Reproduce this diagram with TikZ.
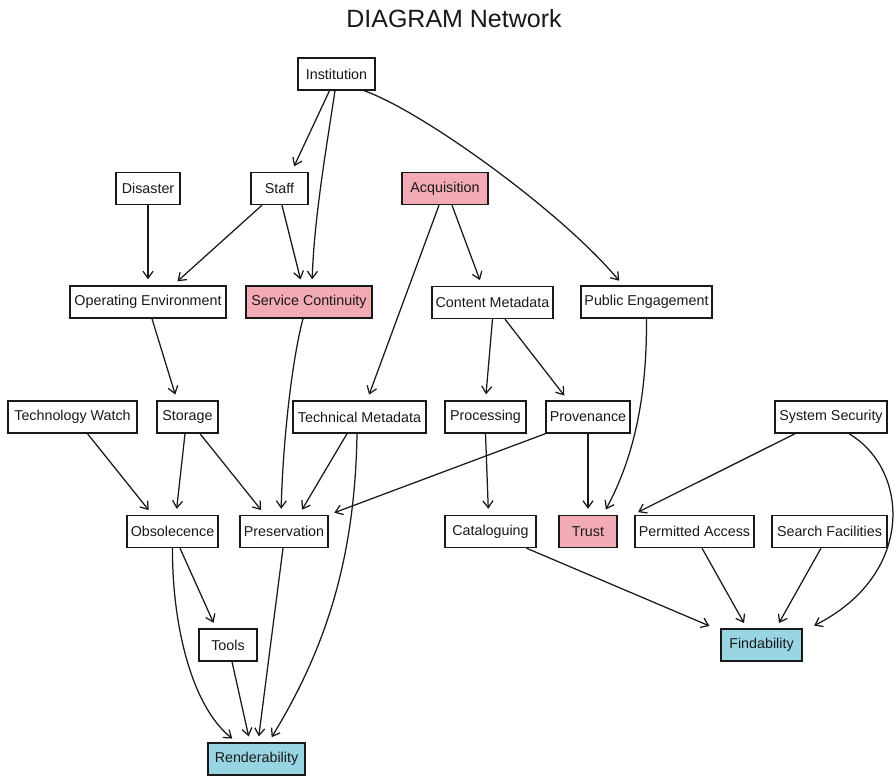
\documentclass[tikz,border=0pt]{standalone}
\usepackage{fontspec}
\setmainfont{Liberation Sans}
\usetikzlibrary{arrows.meta}
\definecolor{pinkbox}{RGB}{242,170,180}
\definecolor{bluebox}{RGB}{152,212,226}
\definecolor{ink}{RGB}{25,25,25}
\tikzset{
  box/.style={draw=ink, line width=1.4pt, minimum height=32pt, inner sep=0pt,
    font=\fontsize{14.3}{16}\selectfont, text=ink, fill=white},
  pinkn/.style={box, fill=pinkbox},
  bluen/.style={box, fill=bluebox},
  edge/.style={line width=1.25pt, draw=ink, -{Straight Barb[length=7pt,width=10pt]}, shorten >=6pt},
}
\begin{document}
\begin{tikzpicture}[x=1pt,y=-1pt]
\useasboundingbox[fill=white] (0,0) rectangle (895,776);
\node[font=\fontsize{25}{30}\selectfont, text=ink, anchor=base] (title) at (454,28) {DIAGRAM Network};

\node[box, minimum width=77pt] (inst) at (336.5,74) {Institution};
\node[box, minimum width=64pt] (dis) at (148,188.5) {Disaster};
\node[box, minimum width=57pt] (staff) at (279.5,188.5) {Staff};
\node[pinkn, minimum width=86pt] (acq) at (445,188.5) {Acquisition};
\node[box, minimum width=156pt] (oe) at (148,302) {Operating Environment};
\node[pinkn, minimum width=126pt] (sc) at (309,302) {Service Continuity};
\node[box, minimum width=121pt] (cm) at (492.5,302.5) {Content Metadata};
\node[box, minimum width=131pt] (pe) at (646.5,302) {Public Engagement};
\node[box, minimum width=129pt] (tw) at (72.5,417) {Technology Watch};
\node[box, minimum width=61pt] (sto) at (187.5,417) {Storage};
\node[box, minimum width=133pt] (tm) at (359.5,417) {Technical Metadata};
\node[box, minimum width=81pt] (proc) at (485.5,417) {Processing};
\node[box, minimum width=84pt] (prov) at (588,417) {Provenance};
\node[box, minimum width=112pt] (ss) at (831,417) {System Security};
\node[box, minimum width=91pt] (obs) at (172.5,531.5) {Obsolecence};
\node[box, minimum width=88pt] (pres) at (284,531.5) {Preservation};
\node[box, minimum width=91pt] (cat) at (490.5,531.5) {Cataloguing};
\node[pinkn, minimum width=58pt] (trust) at (588,531.5) {Trust};
\node[box, minimum width=119pt] (pa) at (694.5,531.5) {Permitted Access};
\node[box, minimum width=115pt] (sf) at (829.5,531.5) {Search Facilities};
\node[box, minimum width=58pt] (tools) at (228,645) {Tools};
\node[bluen, minimum width=81pt] (find) at (761.5,645) {Findability};
\node[bluen, minimum width=97pt] (rend) at (256.5,759) {Renderability};

\draw[edge] ([xshift=-7pt]inst.south) -- ([xshift=12pt]staff.north);
\draw[edge] ([xshift=-1.5pt]inst.south) .. controls (326,150) and (314,220) .. ([xshift=3pt]sc.north);
\draw[edge] ([xshift=27.5pt]inst.south) .. controls (420,110) and (560,210) .. ([xshift=-23.5pt]pe.north);
\draw[edge] (dis.south) -- (oe.north);
\draw[edge] ([xshift=-17.5pt]staff.south) -- ([xshift=25pt]oe.north);
\draw[edge] ([xshift=2.5pt]staff.south) -- ([xshift=-7pt]sc.north);
\draw[edge] ([xshift=7pt]acq.south) -- ([xshift=-10.5pt]cm.north);
\draw[edge] ([xshift=-6pt]acq.south) -- ([xshift=7.5pt]tm.north);
\draw[edge] ([xshift=4pt]oe.south) -- ([xshift=-10.5pt]sto.north);
\draw[edge] ([xshift=-6pt]sc.south) .. controls (292,360) and (283,440) .. ([xshift=-3pt]pres.north);
\draw[edge] (cm.south) -- (proc.north);
\draw[edge] ([xshift=12.5pt]cm.south) -- ([xshift=-20pt]prov.north);
\draw[edge] (pe.south) .. controls (647,400) and (633,459) .. ([xshift=15pt]trust.north);
\draw[edge] ([xshift=15pt]tw.south) -- ([xshift=-20pt]obs.north);
\draw[edge] ([xshift=-2.5pt]sto.south) -- ([xshift=3.5pt]obs.north);
\draw[edge] ([xshift=12.5pt]sto.south) -- ([xshift=-19pt]pres.north);
\draw[edge] ([xshift=-12.5pt]tm.south) -- ([xshift=15pt]pres.north);
\draw[edge] ([xshift=-2.5pt]tm.south) .. controls (355,560) and (325,650) .. ([xshift=12pt]rend.north);
\draw[edge] (prov.south west) -- (pres.north east);
\draw[edge] (proc.south) -- ([xshift=-2pt]cat.north);
\draw[edge] (prov.south) -- (trust.north);
\draw[edge] ([xshift=-36pt]ss.south) -- ([xshift=15pt]trust.north east);
\draw[edge] ([xshift=18pt]ss.south) .. controls (910,470) and (915,575) .. ([xshift=6pt]find.north east);
\draw[edge] ([xshift=7.5pt]obs.south) -- ([xshift=-12pt]tools.north);
\draw[edge] (obs.south) .. controls (172,620) and (190,705) .. ([xshift=-19.5pt]rend.north);
\draw[edge] ([xshift=-1pt]pres.south) -- ([xshift=1.5pt]rend.north);
\draw[edge] ([xshift=4pt]tools.south) -- ([xshift=-6.5pt]rend.north);
\draw[edge] ([xshift=36pt]cat.south) -- ([xshift=-46.5pt]find.north);
\draw[edge] ([xshift=7.5pt]pa.south) -- ([xshift=-14.5pt]find.north);
\draw[edge] ([xshift=-8.5pt]sf.south) -- ([xshift=14.5pt]find.north);
\end{tikzpicture}
\end{document}
